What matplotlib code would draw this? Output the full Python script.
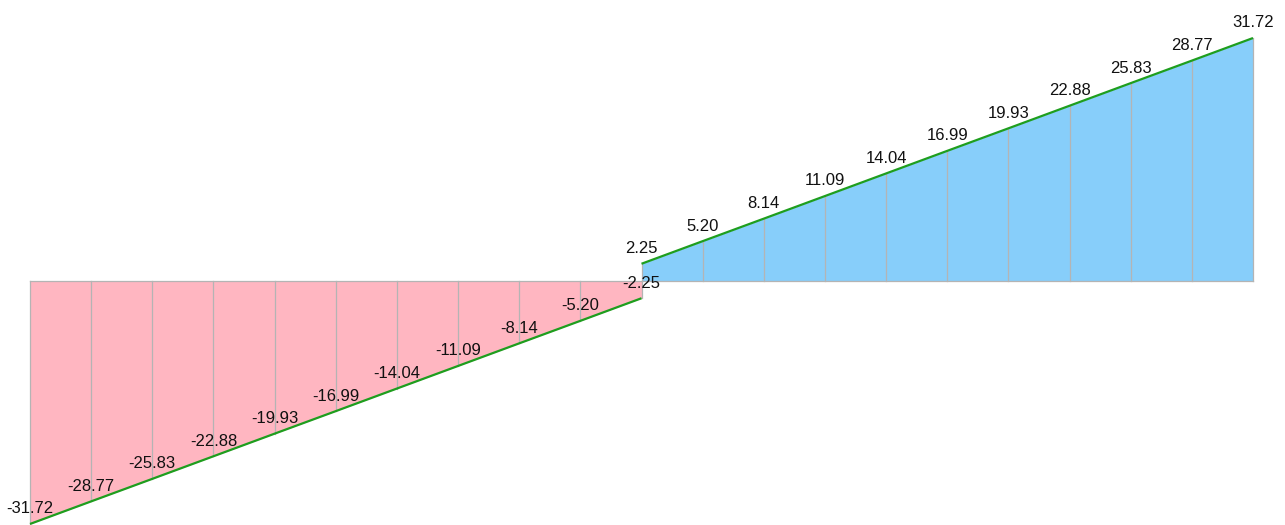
import matplotlib
matplotlib.use("Agg")
import matplotlib.pyplot as plt

# Station positions along the beam and shear values at each station
left_x = [0, 1, 2, 3, 4, 5, 6, 7, 8, 9, 10]
left_v = [-31.72, -28.77, -25.83, -22.88, -19.93, -16.99, -14.04, -11.09, -8.14, -5.20, -2.25]
right_x = [10, 11, 12, 13, 14, 15, 16, 17, 18, 19, 20]
right_v = [2.25, 5.20, 8.14, 11.09, 14.04, 16.99, 19.93, 22.88, 25.83, 28.77, 31.72]

plt.rcParams['font.family'] = ['Liberation Sans', 'DejaVu Sans']

fig = plt.figure(figsize=(12.85, 5.25), dpi=100)
ax = fig.add_axes([0, 0, 1, 1])
ax.set_axis_off()

px_x = 61.15
px_y = 7.66
ax.set_xlim(-30 / px_x, 20 + 32 / px_x)
ax.set_ylim(-(525 - 281) / px_y, 281 / px_y)

grey = '#b4b4b4'
for xs, vs, fill in ((left_x, left_v, '#ffb6c1'), (right_x, right_v, '#87cefa')):
    ax.fill_between(xs, 0, vs, color=fill, linewidth=0, zorder=1)
    for x, v in zip(xs, vs):
        ax.plot([x, x], [0, v], color=grey, lw=0.9, zorder=2)
    ax.plot([xs[0], xs[-1]], [0, 0], color=grey, lw=0.9, zorder=2)
    ax.plot(xs, vs, color='#1e9e1e', lw=1.6, zorder=3, solid_capstyle='butt')
    for x, v in zip(xs, vs):
        ax.annotate(f"{v:.2f}", (x, v), xytext=(0, 5.5), textcoords='offset points',
                    ha='center', va='bottom', fontsize=12, color='#111111', zorder=4)

fig.savefig('out.png', dpi=100)
